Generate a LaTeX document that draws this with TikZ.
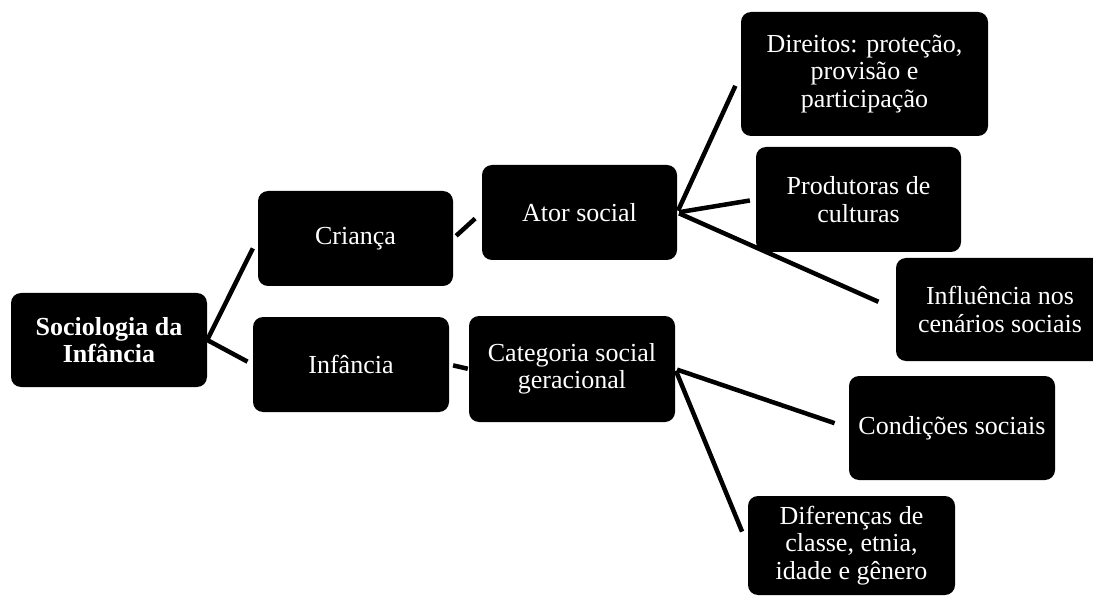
\documentclass[tikz,border=0pt]{standalone}
\usepackage{fontspec}
\setmainfont{Liberation Serif}
\usepackage{tikz}
\usepackage{xcolor}

\tikzset{
  box/.style={rectangle, rounded corners=10pt, fill=black, text=white,
    align=center, inner sep=2pt, font=\fontsize{26}{27.5}\selectfont},
  link/.style={line width=4.5pt}
}

\begin{document}
\begin{tikzpicture}[x=1pt, y=-1pt]
    \clip (0,0) rectangle (1093,596);

    % Root
    \node[box, minimum width=196pt, minimum height=94pt,
      font=\fontsize{26}{27.5}\selectfont\bfseries] (soc) at (109,340) {Sociologia da\\Infância};

    % Second level
    \node[box, minimum width=195pt, minimum height=95pt] (crianca) at (355.5,238.5) {Criança};
    \node[box, minimum width=196pt, minimum height=95pt] (infancia) at (351,364.5) {Infância};

    % Third level
    \node[box, minimum width=195pt, minimum height=95pt] (ator) at (579.5,212.5) {Ator social};
    \node[box, minimum width=206pt, minimum height=106pt] (categoria) at (572,369) {Categoria social\\geracional};

    % Leaves of Ator social
    \node[box, minimum width=247pt, minimum height=124pt] (direitos) at (864.5,74) {Direitos: proteção,\\provisão e\\participação};
    \node[box, minimum width=205pt, minimum height=105pt] (produtoras) at (858.5,199.5) {Produtoras de\\culturas};
    \node[box, minimum width=208pt, minimum height=103pt] (influencia) at (1000,309.5) {Influência nos\\cenários sociais};

    % Leaves of Categoria social geracional
    \node[box, minimum width=206pt, minimum height=104pt] (condicoes) at (952,428) {Condições sociais};
    \node[box, minimum width=207pt, minimum height=99pt] (diferencas) at (851.5,545.5) {Diferenças de\\classe, etnia,\\idade e gênero};

    % Connectors
    \draw[link, shorten >=11pt] (soc.east) -- (crianca.west);
    \draw[link, shorten >=6pt] (soc.east) -- (infancia.west);
    \draw[link, shorten <=4pt, shorten >=9pt] (crianca.east) -- (ator.west);
    \draw[link, shorten <=4pt, shorten >=1pt] (infancia.east) -- (categoria.west);
    \draw[link, shorten <=2pt, shorten >=13pt] (ator.east) -- (direitos.west);
    \draw[link, shorten <=2pt, shorten >=6pt] (ator.east) -- (produtoras.west);
    \draw[link, shorten <=2pt, shorten >=19pt] (ator.east) -- (influencia.west);
    \draw[link, shorten <=2pt, shorten >=15pt] (categoria.east) -- (condicoes.west);
    \draw[link, shorten <=2pt, shorten >=15pt] (categoria.east) -- (diferencas.west);
\end{tikzpicture}
\end{document}
